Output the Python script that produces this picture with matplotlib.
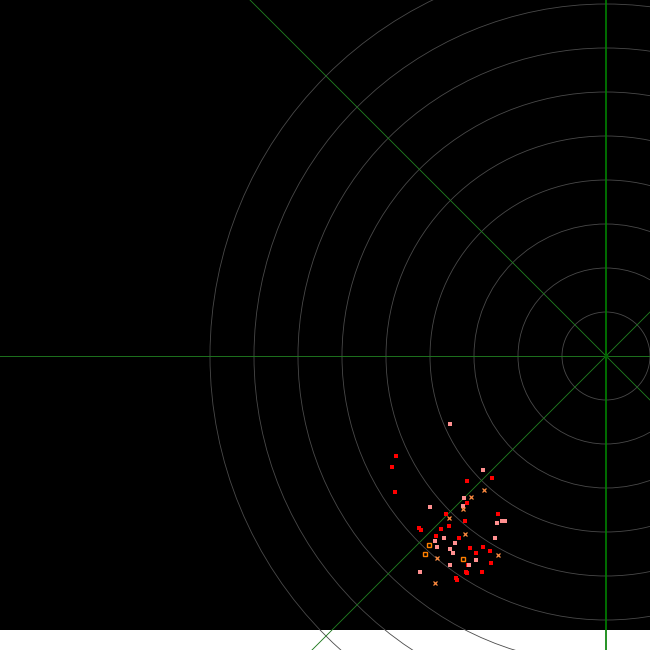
import matplotlib
matplotlib.use("Agg")
import matplotlib.pyplot as plt
import numpy as np

# ring radii and spoke angles (degrees)
ring_radii = [1, 2, 3, 4, 5, 6, 7, 8, 9]
spoke_angles = [45, 135, 180, 225, 315, 0]

# observed points (x, y in ring units, centre at 0,0)
red_x = [-4.77, -4.86, -4.79, -2.58, -3.15, -3.15, -3.63, -2.45, -3.20, -3.56, -4.20, -4.24,
         -3.74, -3.86, -3.33, -3.08, -2.79, -2.95, -2.63, -2.61, -3.13, -3.18, -3.15, -2.81,
         -3.38, -3.42]
red_y = [-2.28, -2.53, -3.08, -2.78, -2.83, -3.35, -3.60, -3.58, -3.76, -3.87, -3.96, -3.92,
         -3.94, -4.10, -4.14, -4.37, -4.33, -4.48, -4.44, -4.71, -4.76, -4.92, -4.94, -4.92,
         -5.10, -5.05]

pink_x = [-3.54, -2.79, -3.22, -3.24, -3.99, -2.36, -2.30, -2.47, -3.68, -2.52, -3.88, -3.83,
          -3.43, -3.54, -3.47, -2.95, -3.54, -3.11, -4.22]
pink_y = [-1.55, -2.58, -3.23, -3.42, -3.44, -3.76, -3.76, -3.80, -4.14, -4.14, -4.21, -4.33,
          -4.26, -4.39, -4.48, -4.64, -4.76, -4.76, -4.92]

cross_x = [-2.77, -3.07, -3.24, -3.56, -3.20, -3.83, -2.45, -3.88]
cross_y = [-3.05, -3.21, -3.47, -3.69, -4.05, -4.58, -4.53, -5.17]

hollow_x = [-4.02, -4.11, -3.24]
hollow_y = [-4.30, -4.51, -4.62]

fig = plt.figure(figsize=(6.5, 6.5), dpi=100, facecolor="white")
ax = fig.add_axes([0, 20 / 650, 1, 630 / 650])
ax.set_facecolor("black")
ax.set_xlim(-606 / 44, 44 / 44)
ax.set_ylim(-274 / 44, 356 / 44)
ax.set_xticks([])
ax.set_yticks([])
for s in ax.spines.values():
    s.set_visible(False)

# rings
for r in ring_radii:
    ring = plt.Circle((0, 0), r, fill=False, color="#4a4a4a", lw=0.6, clip_on=False)
    ax.add_patch(ring)

# spokes
for a in spoke_angles:
    t = np.radians(a)
    ax.plot([0, 25 * np.cos(t)], [0, 25 * np.sin(t)], color="#1f7a1f", lw=0.65,
            clip_on=False)
# meridian
ax.plot([0, 0], [-20, 20], color="#008000", lw=1.2, clip_on=False)
ax.plot([0], [0], "o", color="#006400", ms=3, mew=0)

ax.plot(red_x, red_y, "s", color="#ff0000", ms=3.3, mew=0, clip_on=False)
ax.plot(pink_x, pink_y, "s", color="#ff9090", ms=3.3, mew=0, clip_on=False)
ax.plot(hollow_x, hollow_y, "s", mfc="none", mec="#ff8000", ms=3.0, mew=1.0, clip_on=False)
ax.plot(cross_x, cross_y, "x", color="#ff8c40", ms=3.2, mew=0.9, clip_on=False)

fig.savefig("out.png", dpi=100, facecolor="white")
